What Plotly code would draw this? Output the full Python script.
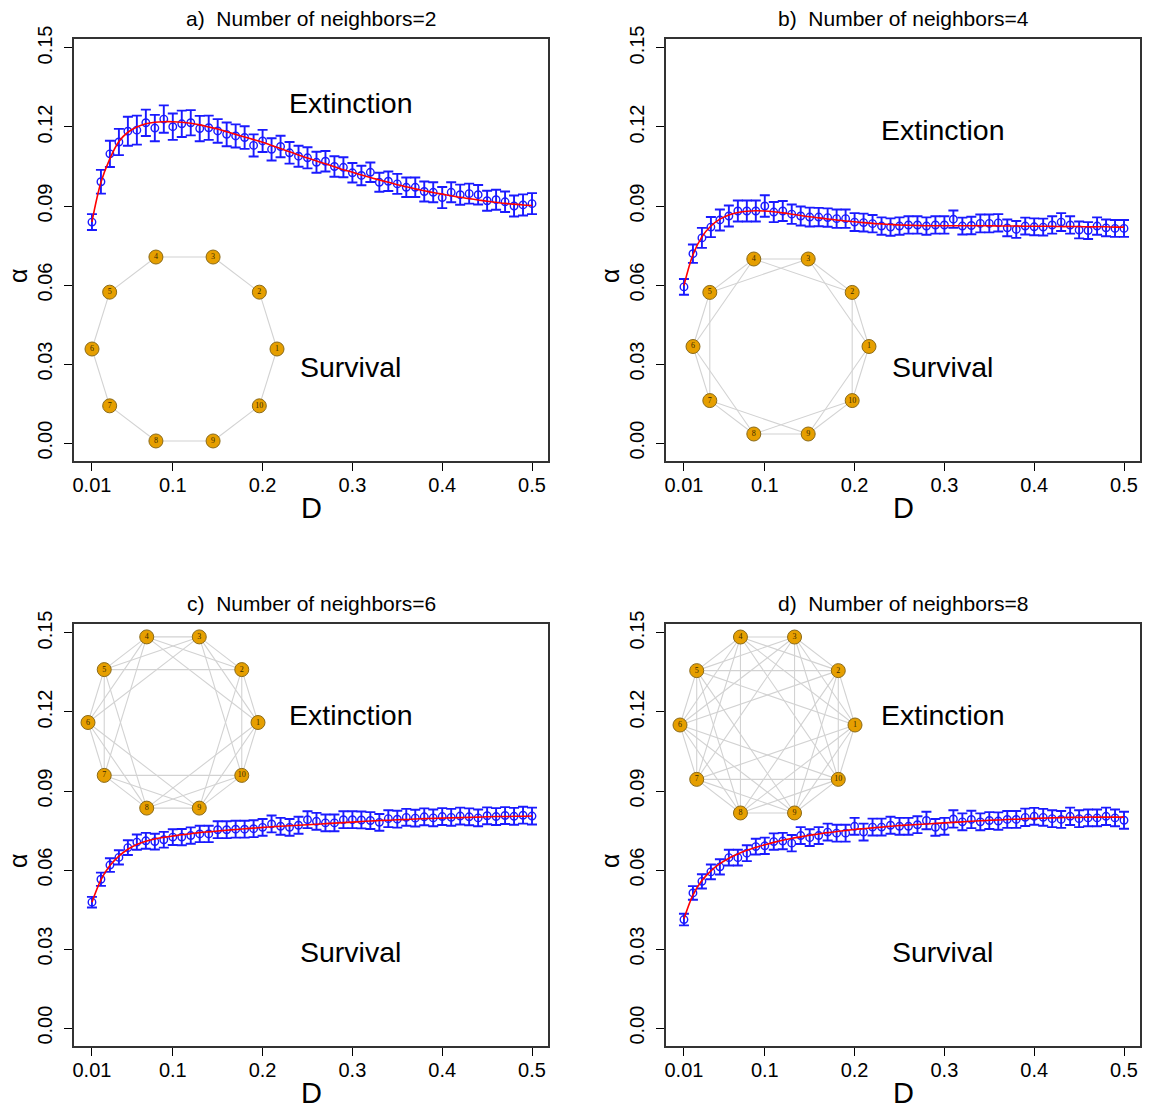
import math
import plotly.graph_objects as go

# ---------------- data ----------------
D = [0.01, 0.02, 0.03, 0.04, 0.05, 0.06, 0.07, 0.08, 0.09, 0.10,
     0.11, 0.12, 0.13, 0.14, 0.15, 0.16, 0.17, 0.18, 0.19, 0.20,
     0.21, 0.22, 0.23, 0.24, 0.25, 0.26, 0.27, 0.28, 0.29, 0.30,
     0.31, 0.32, 0.33, 0.34, 0.35, 0.36, 0.37, 0.38, 0.39, 0.40,
     0.41, 0.42, 0.43, 0.44, 0.45, 0.46, 0.47, 0.48, 0.49, 0.50]

x_tickvals = [0.01, 0.1, 0.2, 0.3, 0.4, 0.5]
x_ticktext = ["0.01", "0.1", "0.2", "0.3", "0.4", "0.5"]
y_tickvals = [0.00, 0.03, 0.06, 0.09, 0.12, 0.15]
y_ticktext = ["0.00", "0.03", "0.06", "0.09", "0.12", "0.15"]

panel_titles = ["a)  Number of neighbors=2", "b)  Number of neighbors=4",
                "c)  Number of neighbors=6", "d)  Number of neighbors=8"]
neighbors = [2, 4, 6, 8]

alpha_a = [0.0839, 0.0992, 0.1098, 0.1143, 0.1184, 0.1188, 0.1216, 0.1196, 0.1230, 0.1201,
           0.1212, 0.1216, 0.1194, 0.1197, 0.1185, 0.1172, 0.1166, 0.1160, 0.1130, 0.1147,
           0.1115, 0.1126, 0.1102, 0.1089, 0.1083, 0.1066, 0.1070, 0.1050, 0.1047, 0.1026,
           0.1016, 0.1028, 0.0990, 0.0994, 0.0984, 0.0971, 0.0971, 0.0955, 0.0952, 0.0932,
           0.0952, 0.0943, 0.0947, 0.0943, 0.0920, 0.0924, 0.0916, 0.0900, 0.0904, 0.0909]
err_a = [0.0030, 0.0045, 0.0050, 0.0050, 0.0055, 0.0055, 0.0050, 0.0050, 0.0052, 0.0050,
         0.0050, 0.0048, 0.0048, 0.0046, 0.0045, 0.0045, 0.0044, 0.0043, 0.0042, 0.0042,
         0.0042, 0.0041, 0.0041, 0.0040, 0.0040, 0.0040, 0.0039, 0.0039, 0.0038, 0.0037,
         0.0037, 0.0037, 0.0036, 0.0037, 0.0038, 0.0037, 0.0037, 0.0038, 0.0038, 0.0040,
         0.0038, 0.0038, 0.0038, 0.0037, 0.0038, 0.0038, 0.0039, 0.0040, 0.0040, 0.0040]
fit_a = [0.0840, 0.0990, 0.1080, 0.1145, 0.1180, 0.1200, 0.1212, 0.1218, 0.1220, 0.1220,
         0.1218, 0.1214, 0.1208, 0.1200, 0.1192, 0.1182, 0.1172, 0.1162, 0.1152, 0.1142,
         0.1130, 0.1118, 0.1106, 0.1094, 0.1082, 0.1071, 0.1060, 0.1049, 0.1038, 0.1028,
         0.1018, 0.1008, 0.0999, 0.0990, 0.0981, 0.0973, 0.0965, 0.0958, 0.0951, 0.0945,
         0.0939, 0.0933, 0.0928, 0.0923, 0.0918, 0.0914, 0.0910, 0.0907, 0.0904, 0.0902]

alpha_b = [0.0593, 0.0719, 0.0779, 0.0820, 0.0847, 0.0862, 0.0881, 0.0881, 0.0881, 0.0900,
           0.0877, 0.0881, 0.0869, 0.0862, 0.0858, 0.0858, 0.0856, 0.0852, 0.0852, 0.0839,
           0.0837, 0.0833, 0.0824, 0.0820, 0.0824, 0.0828, 0.0828, 0.0824, 0.0828, 0.0828,
           0.0850, 0.0824, 0.0826, 0.0834, 0.0834, 0.0836, 0.0817, 0.0811, 0.0824, 0.0821,
           0.0820, 0.0828, 0.0839, 0.0828, 0.0809, 0.0807, 0.0824, 0.0817, 0.0815, 0.0815]
err_b = [0.0030, 0.0035, 0.0038, 0.0038, 0.0040, 0.0040, 0.0040, 0.0040, 0.0040, 0.0041,
         0.0038, 0.0038, 0.0037, 0.0036, 0.0036, 0.0035, 0.0035, 0.0035, 0.0035, 0.0034,
         0.0034, 0.0033, 0.0033, 0.0033, 0.0033, 0.0033, 0.0033, 0.0033, 0.0033, 0.0033,
         0.0033, 0.0032, 0.0033, 0.0034, 0.0034, 0.0033, 0.0032, 0.0032, 0.0032, 0.0032,
         0.0032, 0.0033, 0.0034, 0.0033, 0.0032, 0.0032, 0.0033, 0.0032, 0.0032, 0.0032]
fit_b = [0.0598, 0.0715, 0.0783, 0.0824, 0.0850, 0.0866, 0.0875, 0.0880, 0.0882, 0.0881,
         0.0878, 0.0874, 0.0869, 0.0864, 0.0859, 0.0855, 0.0851, 0.0847, 0.0843, 0.0840,
         0.0837, 0.0834, 0.0832, 0.0830, 0.0828, 0.0827, 0.0826, 0.0825, 0.0825, 0.0825,
         0.0825, 0.0825, 0.0825, 0.0825, 0.0825, 0.0824, 0.0824, 0.0824, 0.0823, 0.0823,
         0.0823, 0.0823, 0.0822, 0.0822, 0.0822, 0.0821, 0.0821, 0.0821, 0.0820, 0.0820]

alpha_c = [0.0478, 0.0565, 0.0619, 0.0648, 0.0685, 0.0706, 0.0711, 0.0708, 0.0715, 0.0725,
           0.0725, 0.0731, 0.0737, 0.0737, 0.0753, 0.0753, 0.0755, 0.0755, 0.0757, 0.0762,
           0.0775, 0.0766, 0.0762, 0.0770, 0.0791, 0.0785, 0.0779, 0.0779, 0.0791, 0.0791,
           0.0790, 0.0788, 0.0781, 0.0795, 0.0793, 0.0800, 0.0797, 0.0802, 0.0798, 0.0803,
           0.0800, 0.0805, 0.0802, 0.0798, 0.0806, 0.0803, 0.0807, 0.0804, 0.0808, 0.0805]
err_c = [0.0020, 0.0025, 0.0026, 0.0027, 0.0028, 0.0029, 0.0030, 0.0030, 0.0030, 0.0030,
         0.0031, 0.0031, 0.0031, 0.0031, 0.0032, 0.0032, 0.0032, 0.0032, 0.0032, 0.0032,
         0.0032, 0.0032, 0.0032, 0.0032, 0.0032, 0.0032, 0.0032, 0.0032, 0.0032, 0.0032,
         0.0032, 0.0032, 0.0032, 0.0032, 0.0032, 0.0032, 0.0032, 0.0032, 0.0032, 0.0032,
         0.0032, 0.0032, 0.0032, 0.0032, 0.0032, 0.0032, 0.0032, 0.0032, 0.0032, 0.0032]
fit_c = [0.0478, 0.0563, 0.0617, 0.0653, 0.0679, 0.0697, 0.0709, 0.0718, 0.0724, 0.0729,
         0.0734, 0.0738, 0.0742, 0.0745, 0.0748, 0.0751, 0.0754, 0.0757, 0.0759, 0.0762,
         0.0764, 0.0766, 0.0768, 0.0770, 0.0772, 0.0774, 0.0776, 0.0778, 0.0780, 0.0782,
         0.0784, 0.0786, 0.0788, 0.0789, 0.0791, 0.0792, 0.0794, 0.0795, 0.0796, 0.0797,
         0.0798, 0.0799, 0.0800, 0.0801, 0.0802, 0.0803, 0.0803, 0.0804, 0.0804, 0.0805]

alpha_d = [0.0412, 0.0513, 0.0557, 0.0593, 0.0612, 0.0647, 0.0647, 0.0664, 0.0689, 0.0692,
           0.0708, 0.0710, 0.0702, 0.0731, 0.0723, 0.0731, 0.0744, 0.0740, 0.0740, 0.0766,
           0.0744, 0.0763, 0.0763, 0.0770, 0.0766, 0.0766, 0.0772, 0.0788, 0.0762, 0.0766,
           0.0794, 0.0783, 0.0792, 0.0783, 0.0788, 0.0786, 0.0792, 0.0792, 0.0800, 0.0804,
           0.0800, 0.0795, 0.0792, 0.0804, 0.0795, 0.0798, 0.0798, 0.0804, 0.0798, 0.0789]
err_d = [0.0022, 0.0026, 0.0027, 0.0028, 0.0029, 0.0030, 0.0030, 0.0030, 0.0030, 0.0031,
         0.0031, 0.0031, 0.0031, 0.0032, 0.0032, 0.0032, 0.0032, 0.0032, 0.0032, 0.0032,
         0.0032, 0.0032, 0.0032, 0.0032, 0.0032, 0.0032, 0.0032, 0.0033, 0.0032, 0.0032,
         0.0033, 0.0032, 0.0033, 0.0032, 0.0032, 0.0033, 0.0032, 0.0032, 0.0033, 0.0032,
         0.0032, 0.0032, 0.0032, 0.0033, 0.0032, 0.0032, 0.0032, 0.0033, 0.0032, 0.0032]
fit_d = [0.0415, 0.0505, 0.0560, 0.0597, 0.0624, 0.0645, 0.0661, 0.0675, 0.0686, 0.0696,
         0.0705, 0.0713, 0.0720, 0.0726, 0.0732, 0.0737, 0.0742, 0.0746, 0.0750, 0.0754,
         0.0757, 0.0760, 0.0763, 0.0766, 0.0769, 0.0771, 0.0773, 0.0775, 0.0777, 0.0779,
         0.0781, 0.0783, 0.0785, 0.0787, 0.0789, 0.0790, 0.0792, 0.0793, 0.0795, 0.0796,
         0.0797, 0.0798, 0.0799, 0.0800, 0.0800, 0.0801, 0.0801, 0.0801, 0.0801, 0.0801]

alphas = [alpha_a, alpha_b, alpha_c, alpha_d]
errs = [err_a, err_b, err_c, err_d]
fits = [fit_a, fit_b, fit_c, fit_d]
node_labels = ["1", "2", "3", "4", "5", "6", "7", "8", "9", "10"]

# ---------------- layout geometry (pixels) ----------------
W, H = 1149, 1110
box_x = [(74, 548), (666, 1140), (74, 548), (666, 1140)]
box_y = [(39, 461), (39, 461), (624, 1046), (624, 1046)]
# network inset centre and radii (px)
net_geo = [(184.5, 349, 92.5, 96.7), (781, 346.5, 88, 92),
           (173, 722.5, 85, 90), (767.5, 725, 87.5, 92.5)]
text_y = [(0.129, 0.029), (0.1187, 0.029), (0.119, 0.029), (0.119, 0.029)]

FONT = "Liberation Sans, Arial, sans-serif"
BLUE = "#1a1aff"

def px_x(p):
    return p / W

def px_y(p):
    return 1 - p / H

fig = go.Figure()
layout = dict(template="none", width=W, height=H, margin=dict(l=0, r=0, t=0, b=0, pad=0),
              paper_bgcolor="white", plot_bgcolor="rgba(0,0,0,0)",
              showlegend=False, font=dict(family=FONT, color="black"))
annotations = []

for i in range(4):
    ax = "" if i == 0 else str(i + 1)
    xa, ya = "x" + ax, "y" + ax
    x0, x1 = box_x[i]
    y0, y1 = box_y[i]
    layout["xaxis" + ax] = dict(
        domain=[px_x(x0), px_x(x1)], range=[-0.0100, 0.5178], anchor=ya,
        automargin=False,
        tickvals=x_tickvals, ticktext=x_ticktext, ticks="outside", ticklen=8,
        tickwidth=1.3, tickcolor="black", showline=True, mirror=True,
        linecolor="#333333", linewidth=1.6, showgrid=False, zeroline=False,
        tickfont=dict(family=FONT, size=20, color="black"), ticklabelstandoff=-3)
    layout["yaxis" + ax] = dict(
        domain=[px_y(y1), px_y(y0)], range=[-0.0068, 0.1534], anchor=xa,
        automargin=False,
        tickvals=y_tickvals, ticktext=y_ticktext, ticks="outside", ticklen=8,
        tickwidth=1.3, tickcolor="black", showline=True, mirror=True,
        linecolor="#333333", linewidth=1.6, showgrid=False, zeroline=False,
        tickangle=-90, tickfont=dict(family=FONT, size=20, color="black"),
        ticklabelstandoff=4)

    # network inset axes
    k = i + 5
    nx_, ny_ = "x" + str(k), "y" + str(k)
    cx, cy, rx, ry = net_geo[i]
    pad = 1.3
    layout["xaxis" + str(k)] = dict(
        domain=[px_x(cx - pad * rx), px_x(cx + pad * rx)], range=[-pad, pad],
        anchor=ny_, visible=False, fixedrange=True, automargin=False)
    layout["yaxis" + str(k)] = dict(
        domain=[px_y(cy + pad * ry), px_y(cy - pad * ry)], range=[-pad, pad],
        anchor=nx_, visible=False, fixedrange=True, automargin=False)

    n = len(node_labels)
    nxs = [math.cos(2 * math.pi * j / n) for j in range(n)]
    nys = [math.sin(2 * math.pi * j / n) for j in range(n)]
    ex, ey = [], []
    half = neighbors[i] // 2
    for a in range(n):
        for s in range(1, half + 1):
            b = (a + s) % n
            ex += [nxs[a], nxs[b], None]
            ey += [nys[a], nys[b], None]
    fig.add_trace(go.Scatter(x=ex, y=ey, xaxis=nx_, yaxis=ny_, mode="lines",
                             line=dict(color="#d2d2d2", width=1.1),
                             hoverinfo="skip", cliponaxis=False))
    fig.add_trace(go.Scatter(x=nxs, y=nys, xaxis=nx_, yaxis=ny_, mode="markers+text",
                             marker=dict(size=14, color="#E69F00",
                                         line=dict(color="#8a6a1a", width=1)),
                             text=node_labels, textposition="middle center",
                             textfont=dict(family="Liberation Serif, serif", size=8,
                                           color="#3a2a00"),
                             cliponaxis=False))

    # data with error bars
    fig.add_trace(go.Scatter(x=D, y=alphas[i], xaxis=xa, yaxis=ya, mode="markers",
                             marker=dict(symbol="circle-open", size=7.5, color=BLUE,
                                         line=dict(width=1.4, color=BLUE)),
                             error_y=dict(type="data", array=errs[i], visible=True,
                                          color=BLUE, thickness=1.9, width=5),
                             cliponaxis=False))
    fig.add_trace(go.Scatter(x=D, y=fits[i], xaxis=xa, yaxis=ya, mode="lines",
                             line=dict(color="red", width=1.6, shape="spline"),
                             cliponaxis=False))

    # texts
    cxm = (x0 + x1) / 2
    annotations.append(dict(text=panel_titles[i], x=px_x(cxm), y=px_y(y0 - 21),
                            xref="paper", yref="paper", showarrow=False,
                            xanchor="center", yanchor="middle",
                            font=dict(family=FONT, size=21, color="black")))
    annotations.append(dict(text="D", x=px_x(cxm), y=px_y(y1 + 47),
                            xref="paper", yref="paper", showarrow=False,
                            xanchor="center", yanchor="middle",
                            font=dict(family=FONT, size=29, color="black")))
    annotations.append(dict(text="α", x=px_x(x0 - 56), y=px_y((y0 + y1) / 2 + 26),
                            xref="paper", yref="paper", showarrow=False,
                            xanchor="center", yanchor="middle", textangle=-90,
                            font=dict(family=FONT, size=25, color="black")))
    annotations.append(dict(text="Extinction", x=0.298, y=text_y[i][0], xref=xa, yref=ya,
                            showarrow=False, xanchor="center", yanchor="middle",
                            font=dict(family=FONT, size=28.5, color="black")))
    annotations.append(dict(text="Survival", x=0.298, y=text_y[i][1], xref=xa, yref=ya,
                            showarrow=False, xanchor="center", yanchor="middle",
                            font=dict(family=FONT, size=28.5, color="black")))

layout["annotations"] = annotations
fig.update_layout(**layout)
fig.write_html("out.html")
